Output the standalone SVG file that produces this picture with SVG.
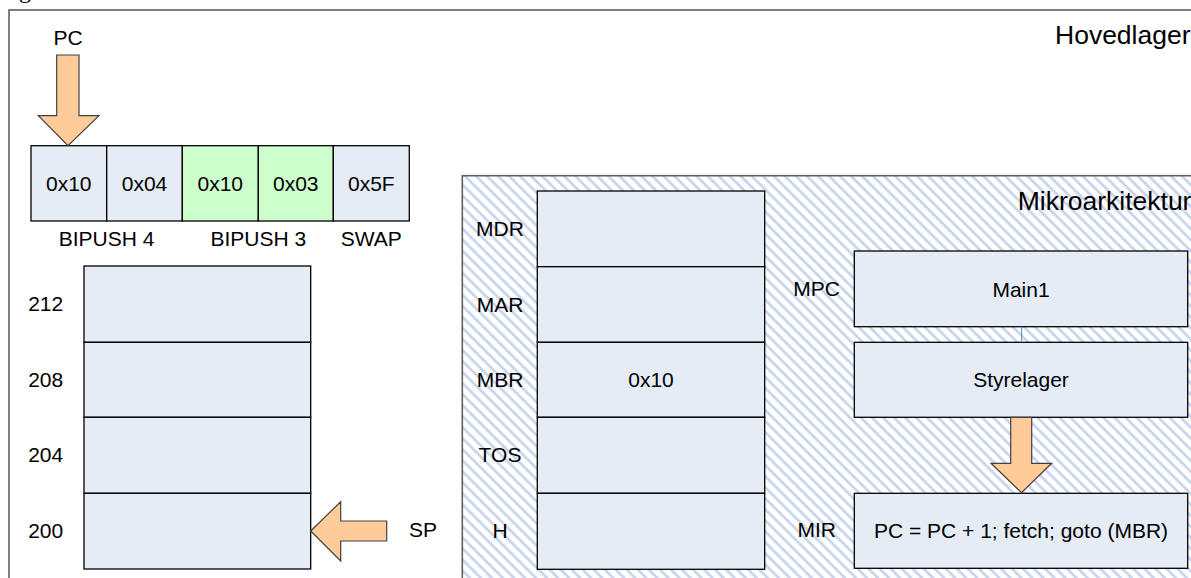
<svg xmlns="http://www.w3.org/2000/svg" width="1191" height="578" viewBox="0 0 1191 578">
  <defs>
    <pattern id="hatch" patternUnits="userSpaceOnUse" width="7.8" height="7.8" patternTransform="rotate(-45)">
      <rect width="7.8" height="7.8" fill="#ffffff"/>
      <line x1="1.5" y1="0" x2="1.5" y2="7.8" stroke="#c6d3ec" stroke-width="2.6"/>
    </pattern>
  </defs>
  <style>
    text { font-family: "Liberation Sans", Arial, sans-serif; font-size: 21px; fill: #000; }
    .c { text-anchor: middle; }
    .big { font-size: 26.5px; }
    .cell { fill: #e6ecf6; stroke: #000; stroke-width: 1.3; }
    .green { fill: #ccffcc; stroke: #000; stroke-width: 1.3; }
    .frame-out { stroke: #606060; stroke-width: 1.6; }
    .arrow { fill: #ffcc99; stroke: #404040; stroke-width: 1.2; }
  </style>
  <rect width="1191" height="578" fill="#ffffff"/>
  <text x="19" y="-2" style="font-family:'Liberation Serif',serif;font-size:24px">g</text>

  <g id="hovedlager">
    <rect x="9" y="10" width="1200" height="600" fill="#ffffff" class="frame-out"/>
    <text class="big" x="1055" y="44">Hovedlager</text>
  </g>

  <g id="mikroarkitektur">
    <rect x="462.3" y="175.7" width="760" height="420" fill="url(#hatch)" class="frame-out"/>
    <text class="big" x="1017.7" y="210">Mikroarkitektur</text>
  </g>

  <g id="pc-label"><text class="c" x="68" y="45">PC</text></g>

  <g id="instr-0"><rect class="cell" x="31" y="145.7" width="75.7" height="75.3"/><text class="c" x="68.8" y="190.8">0x10</text></g>
  <g id="instr-1"><rect class="cell" x="106.7" y="145.7" width="75.6" height="75.3"/><text class="c" x="144.5" y="190.8">0x04</text></g>
  <g id="instr-2"><rect class="green" x="182.3" y="145.7" width="76" height="75.3"/><text class="c" x="220.3" y="190.8">0x10</text></g>
  <g id="instr-3"><rect class="green" x="258.3" y="145.7" width="75" height="75.3"/><text class="c" x="295.8" y="190.8">0x03</text></g>
  <g id="instr-4"><rect class="cell" x="333.3" y="145.7" width="76" height="75.3"/><text class="c" x="371.3" y="190.8">0x5F</text></g>
  <g id="instr-labels">
    <text class="c" x="106.5" y="246">BIPUSH 4</text>
    <text class="c" x="258.3" y="246">BIPUSH 3</text>
    <text class="c" x="371.3" y="246">SWAP</text>
  </g>

  <g id="stack">
    <rect class="cell" x="84" y="266" width="226.7" height="76.3"/>
    <rect class="cell" x="84" y="342.3" width="226.7" height="75"/>
    <rect class="cell" x="84" y="417.3" width="226.7" height="76"/>
    <rect class="cell" x="84" y="493.3" width="226.7" height="75.7"/>
    <text class="c" x="45.7" y="311">212</text>
    <text class="c" x="45.7" y="386.5">208</text>
    <text class="c" x="45.7" y="462">204</text>
    <text class="c" x="45.7" y="537.5">200</text>
  </g>

  <g id="sp-label"><text class="c" x="423" y="536.7">SP</text></g>

  <g id="registers">
    <rect class="cell" x="537.3" y="191" width="227.4" height="75.7"/>
    <rect class="cell" x="537.3" y="266.7" width="227.4" height="75.6"/>
    <rect class="cell" x="537.3" y="342.3" width="227.4" height="75"/>
    <rect class="cell" x="537.3" y="417.3" width="227.4" height="76"/>
    <rect class="cell" x="537.3" y="493.3" width="227.4" height="76"/>
    <text class="c" x="651" y="387">0x10</text>
    <text class="c" x="500" y="236">MDR</text>
    <text class="c" x="500" y="311.5">MAR</text>
    <text class="c" x="500" y="387">MBR</text>
    <text class="c" x="500" y="462">TOS</text>
    <text class="c" x="500" y="537.5">H</text>
  </g>

  <g id="mpc">
    <rect class="cell" x="854.3" y="251" width="333.4" height="75.7"/>
    <text class="c" x="1021" y="296.5">Main1</text>
    <text class="c" x="816.7" y="295.5">MPC</text>
  </g>

  <g id="styrelager">
    <rect class="cell" x="854.3" y="342.3" width="333.4" height="75"/>
    <text class="c" x="1021" y="387">Styrelager</text>
  </g>

  <g id="mir">
    <rect class="cell" x="854.3" y="493.3" width="333.4" height="75"/>
    <text class="c" x="1021" y="537.5">PC = PC + 1; fetch; goto (MBR)</text>
    <text class="c" x="816.7" y="536.7">MIR</text>
  </g>

  <g id="connectors">
    <line x1="1021.7" y1="326.7" x2="1021.7" y2="342.3" stroke="#4f81bd" stroke-width="1"/>
    <polygon class="arrow" points="56.7,55 79,55 79,115.7 99,115.7 68,145.7 38.3,115.7 56.7,115.7"/>
    <polygon class="arrow" points="310.7,531 340.7,501.7 340.7,521 386.7,521 386.7,541 340.7,541 340.7,561"/>
    <polygon class="arrow" points="1010.7,417.3 1031.7,417.3 1031.7,463.3 1051.7,463.3 1021.5,492.7 991,463.3 1010.7,463.3"/>
  </g>
</svg>
